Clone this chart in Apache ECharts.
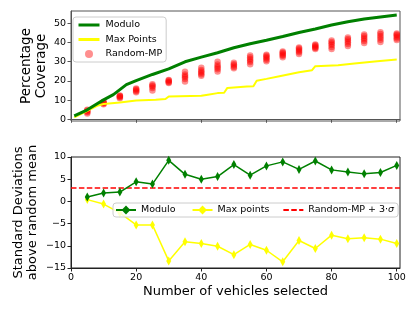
<!DOCTYPE html>
<html>
<head>
<meta charset="utf-8">
<script src="https://cdn.jsdelivr.net/npm/echarts@6/dist/echarts.min.js"></script>
<style>html,body{margin:0;padding:0;background:#fff}#c{width:415px;height:311px}</style>
</head>
<body>
<div id="c"></div>
<script>
// ---- Top panel: Percentage coverage ----
var moduloX = [1, 5, 7, 10, 13, 17, 20, 25, 30, 35, 40, 45, 50, 55, 60, 65, 70, 75, 80, 85, 90, 95, 100];
var moduloY = [1.8, 4.9, 7.0, 10.1, 12.8, 18.0, 20.1, 23.3, 26.2, 29.9, 32.3, 34.6, 37.2, 39.3, 41.1, 43.0, 45.1, 46.9, 49.0, 50.7, 52.1, 53.2, 54.2];
var maxPtsX = [1, 5, 8, 10, 15, 20, 26, 29, 30, 40, 42, 45, 47, 48, 54, 56, 57, 60, 64, 70, 74, 75, 82, 87, 94, 100];
var maxPtsY = [1.0, 4.4, 7.0, 7.9, 8.7, 9.8, 10.1, 10.5, 11.8, 12.2, 12.8, 13.6, 13.8, 16.3, 17.0, 17.2, 20.0, 21.0, 22.4, 24.5, 25.5, 27.6, 28.1, 29.0, 30.2, 31.1];
var randomX = [5, 10, 15, 20, 25, 30, 35, 40, 45, 50, 55, 60, 65, 70, 75, 80, 85, 90, 95, 100];
var randomY = [
  [3.0, 3.6, 4.1, 4.5, 5.0],
  [7.8, 8.2, 8.5, 8.8, 9.0],
  [10.9, 11.4, 11.8, 12.1, 12.4],
  [14.0, 14.6, 15.1, 15.6, 16.0],
  [15.0, 16.3, 17.0, 17.5, 18.2],
  [18.8, 19.3, 19.7, 20.1, 20.4],
  [19.7, 21.0, 21.8, 22.5, 23.3, 24.7],
  [22.6, 23.4, 24.2, 24.9, 25.6, 26.8],
  [24.9, 26.0, 26.8, 27.6, 28.5, 29.9],
  [26.5, 27.2, 27.9, 28.6, 29.4],
  [28.6, 29.8, 30.6, 31.4, 32.2, 33.1],
  [30.2, 31.0, 31.7, 32.4, 33.0, 33.6],
  [32.3, 33.0, 33.6, 34.2, 34.7, 35.2],
  [33.9, 34.8, 35.5, 36.2, 36.8, 37.3],
  [36.5, 37.0, 37.5, 38.0, 38.5, 38.9],
  [36.5, 37.6, 38.6, 39.4, 40.2, 41.0],
  [38.1, 39.2, 40.1, 40.9, 41.7, 42.5],
  [39.6, 40.7, 41.6, 42.4, 43.3, 44.1],
  [40.2, 41.4, 42.4, 43.3, 44.3, 45.2],
  [41.2, 42.0, 42.8, 43.5, 44.1, 44.6]
];
// ---- Bottom panel: standard deviations above random mean ----
var sdX = [5, 10, 15, 20, 25, 30, 35, 40, 45, 50, 55, 60, 65, 70, 75, 80, 85, 90, 95, 100];
var sdModulo = [1.0, 1.9, 2.1, 4.4, 3.9, 9.25, 6.1, 5.0, 5.6, 8.3, 5.9, 8.0, 8.9, 7.2, 9.1, 7.1, 6.6, 6.2, 6.5, 8.1];
var sdMaxPts = [0.4, -0.6, -2.6, -5.3, -5.3, -13.4, -9.1, -9.5, -10.1, -12.0, -9.7, -11.0, -13.6, -8.8, -10.6, -7.6, -8.4, -8.2, -8.5, -9.5];
var threshold = 3;
var xTicks = [0, 20, 40, 60, 80, 100];
var topYTicks = [0, 10, 20, 30, 40, 50];

function pairs(xs, ys) { return xs.map(function (x, i) { return [x, ys[i]]; }); }
var randomPts = [];
randomX.forEach(function (x, i) { randomY[i].forEach(function (v) { randomPts.push([x, v]); }); });

var FONT = 'DejaVu Sans';
var diamond = 'path://M0,-10L6,0L0,10L-6,0Z';
var SIGMA_NAME = 'Random-MP + 3\u00b7\u03c3';
var chart = echarts.init(document.getElementById('c'), null, {renderer: 'canvas'});
var lbl = {color: '#000', fontSize: 9.5, fontFamily: FONT};
var noSym = {color: 'rgba(0,0,0,0)', borderWidth: 0};
chart.setOption({
  animation: false,
  textStyle: {fontFamily: FONT},
  grid: [
    {left: 71, top: 11, width: 329, height: 110, show: true, borderColor: '#555', borderWidth: 1, backgroundColor: 'transparent'},
    {left: 71, top: 157, width: 329, height: 111, show: true, borderColor: '#222', borderWidth: 1, backgroundColor: 'transparent'}
  ],
  xAxis: [
    {type: 'value', gridIndex: 0, min: 0, max: 101,
     axisLine: {show: true, lineStyle: {color: '#555'}},
     axisTick: {show: true, length: 3.5, customValues: xTicks, lineStyle: {color: '#555'}},
     axisLabel: {show: false}, splitLine: {show: false}},
    {type: 'value', gridIndex: 1, min: 0, max: 101,
     axisLine: {show: true, onZero: false, lineStyle: {color: '#222'}},
     axisTick: {show: true, length: 3.5, customValues: xTicks, lineStyle: {color: '#222'}},
     axisLabel: Object.assign({margin: 5, customValues: xTicks}, lbl), splitLine: {show: false},
     name: 'Number of vehicles selected', nameLocation: 'middle', nameGap: 17,
     nameTextStyle: {fontSize: 13, color: '#000', fontFamily: FONT}}
  ],
  yAxis: [
    {type: 'value', gridIndex: 0, min: -0.9, max: 56.3,
     axisLine: {show: true, lineStyle: {color: '#555'}},
     axisTick: {show: true, length: 3.5, customValues: topYTicks, lineStyle: {color: '#555'}},
     axisLabel: Object.assign({margin: 5, customValues: topYTicks}, lbl), splitLine: {show: false},
     name: 'Percentage\nCoverage', nameLocation: 'middle', nameGap: 22.5, nameRotate: 90, nameMoveOverlap: false,
     nameTextStyle: {fontSize: 13.5, color: '#000', fontFamily: FONT, lineHeight: 15}},
    {type: 'value', gridIndex: 1, min: -15, max: 10, interval: 5,
     axisLine: {show: true, onZero: false, lineStyle: {color: '#222'}},
     axisTick: {show: true, length: 3.5, lineStyle: {color: '#222'}},
     axisLabel: Object.assign({margin: 5, formatter: function (v) { return v < 0 ? '\u2212' + (-v) : String(v); }}, lbl),
     splitLine: {show: false},
     name: 'Standard Deviations\nabove random mean', nameLocation: 'middle', nameGap: 31, nameRotate: 90, nameMoveOverlap: false,
     nameTextStyle: {fontSize: 13, color: '#000', fontFamily: FONT, lineHeight: 14.5}}
  ],
  legend: [
    {data: [{name: 'Modulo', itemStyle: noSym, lineStyle: {width: 3}},
            {name: 'Max Points', itemStyle: noSym, lineStyle: {width: 3}}, 'Random-MP'],
     orient: 'vertical', left: 73, top: 17,
     itemWidth: 21, itemHeight: 8, itemGap: 4.5, padding: [3, 4, 3, 4],
     borderColor: '#ccc', borderWidth: 1, borderRadius: 3, backgroundColor: 'rgba(255,255,255,0.8)',
     textStyle: {fontSize: 9.5, color: '#000', fontFamily: FONT, padding: [0, 0, 0, 1]}},
    {data: ['Modulo ', 'Max points', {name: SIGMA_NAME, itemStyle: noSym}], orient: 'horizontal', left: 113, top: 203,
     itemWidth: 20, itemHeight: 11, itemGap: 13, padding: [2, 4, 2, 2],
     borderColor: '#ccc', borderWidth: 1, borderRadius: 3, backgroundColor: 'rgba(255,255,255,0.8)',
     formatter: function (n) { return n === SIGMA_NAME ? 'Random-MP + 3\u00b7{i|\u03c3}' : n; },
     textStyle: {fontSize: 9.5, color: '#000', fontFamily: FONT,
       rich: {i: {fontSize: 9.5, fontStyle: 'italic', color: '#000', fontFamily: FONT}}}}
  ],
  series: [
    {name: 'Random-MP', type: 'scatter', xAxisIndex: 0, yAxisIndex: 0, data: randomPts,
     symbol: 'circle', symbolSize: 6.5, itemStyle: {color: 'rgba(255,0,0,0.55)'}, z: 2},
    {name: 'Max Points', type: 'line', xAxisIndex: 0, yAxisIndex: 0, data: pairs(maxPtsX, maxPtsY),
     showSymbol: false, symbol: 'none', lineStyle: {color: '#ffff00', width: 2}, itemStyle: {color: '#ffff00'}, z: 3},
    {name: 'Modulo', type: 'line', xAxisIndex: 0, yAxisIndex: 0, data: pairs(moduloX, moduloY),
     showSymbol: false, symbol: 'none', lineStyle: {color: '#008000', width: 3}, itemStyle: {color: '#008000'}, z: 4},
    {name: SIGMA_NAME, type: 'line', xAxisIndex: 1, yAxisIndex: 1, data: [[0, threshold], [101, threshold]],
     symbol: 'none', lineStyle: {color: '#ff0000', width: 1.5, type: [5.5, 2.4]}, itemStyle: {color: '#ff0000'}, z: 2},
    {name: 'Modulo ', type: 'line', xAxisIndex: 1, yAxisIndex: 1, data: pairs(sdX, sdModulo),
     symbol: diamond, symbolSize: [5, 9], lineStyle: {color: '#008000', width: 1.5}, itemStyle: {color: '#008000'}, z: 4},
    {name: 'Max points', type: 'line', xAxisIndex: 1, yAxisIndex: 1, data: pairs(sdX, sdMaxPts),
     symbol: diamond, symbolSize: [5, 9], lineStyle: {color: '#ffff00', width: 1.5}, itemStyle: {color: '#ffff00'}, z: 3}
  ]
});
</script>
</body>
</html>
